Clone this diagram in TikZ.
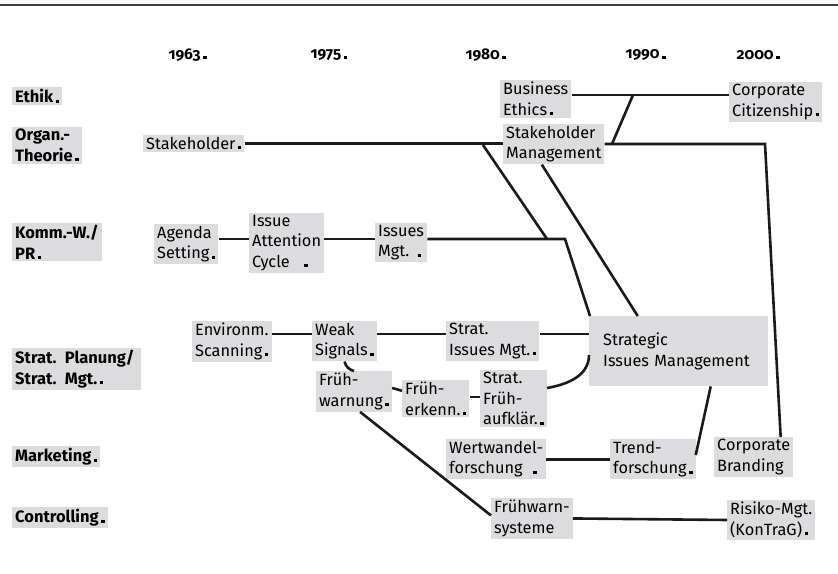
\documentclass[tikz,border=0pt]{standalone}
\usepackage{fontspec}
\setmainfont{Fira Sans}
\usepackage{tikz}
\usetikzlibrary{positioning}
\definecolor{boxgray}{RGB}{220,220,222}
\definecolor{ink}{RGB}{26,26,26}
\newcommand{\dt}{\kern2.5pt\rule{3.5pt}{3pt}}

\begin{document}
\begin{tikzpicture}[
    x=1pt, y=-1pt,
    box/.style={fill=boxgray, anchor=north west, align=left, inner xsep=3pt, inner ysep=2pt, font=\fontsize{16.3}{20.5}\selectfont},
    row/.style={box, font=\fontsize{16.5}{20.5}\selectfont\bfseries},
    year/.style={anchor=west, font=\fontsize{15.5}{20}\selectfont\bfseries\addfontfeatures{Numbers=OldStyle}},
    link/.style={draw=ink, line width=2.6pt}
  ]
  \useasboundingbox (0,0) rectangle (838,573);
  \draw[black!75, line width=2pt] (0,4.5) -- (838,4.5);

  % years
  \foreach \yr/\xp in {1963/165,1975/307,1980/462,1990/622,2000/733}
    \node[year] (y\yr) at (\xp,55) {\yr\dt};

  % disciplines
  \node[row] (ethik) at (12,87) {Ethik\dt};
  \node[row] (organ) at (12,127) {Organ.-\\Theorie\dt};
  \node[row] (komm) at (12,223) {Komm.-W./\\PR\dt};
  \node[row, text width=123pt] (plan) at (12,348) {Strat. Planung/\\Strat. Mgt.\dt};
  \node[row] (mark) at (12,446) {Marketing\dt};
  \node[row] (contr) at (12,507) {Controlling\dt};

  % concepts
  \node[box] (bizeth) at (500,80) {Business\\Ethics\dt};
  \node[box] (corpcit) at (729,82) {Corporate\\Citizenship\dt};
  \node[box] (stake) at (143,135) {Stakeholder\dt};
  \node[box] (stmgt) at (503,124) {Stakeholder\\Management};
  \node[box] (agenda) at (154,224) {Agenda\\Setting\dt};
  \node[box] (attn) at (249,213) {Issue\\Attention\\Cycle\hspace{12pt}\dt};
  \node[box] (issmgt) at (375,223) {Issues\\Mgt.\hspace{6pt}\dt};
  \node[box] (envscan) at (192,321) {Environm.\\Scanning\dt};
  \node[box] (weak) at (312,321) {Weak\\Signals\dt};
  \node[box] (simgt) at (446,321) {Strat.\\Issues Mgt.\dt};
  \node[box, inner xsep=14pt, text width=151pt, minimum height=70pt] (sim) at (589,316) {Strategic\\Issues Management};
  \node[box] (fwarn) at (316,371) {Früh-\\warnung\dt};
  \node[box] (ferk) at (402,380) {Früh-\\erkenn.\dt};
  \node[box] (sfa) at (480,370) {Strat.\\Früh-\\aufklär.\dt};
  \node[box] (wert) at (446,439) {Wertwandel-\\forschung\hspace{8pt}\dt};
  \node[box] (trend) at (610,439) {Trend-\\forschung\dt};
  \node[box] (cbrand) at (714,437) {Corporate\\Branding};
  \node[box] (fwsys) at (491,498) {Frühwarn-\\systeme};
  \node[box] (risiko) at (727,500) {Risiko-Mgt.\\(KonTraG)\dt};

  % junctions
  \coordinate (jEth) at (633,95);
  \coordinate (jSM) at (612,144);
  \coordinate (jSt) at (483,145);
  \coordinate (jPR) at (547,239);
  \coordinate (kPR) at (565,239);
  \coordinate (kCB) at (765,144);
  \coordinate (rS) at (0,334);
  \coordinate (rF) at (0,397);
  \coordinate (rA) at (0,388);
  \coordinate (rB) at (0,355);

  % links
  \draw[link] (bizeth.east |- jEth) -- (jEth) -- (corpcit.west |- jEth);
  \draw[link] (jEth) -- (jSM);
  \draw[link] (stake.east) -- (stake.east -| stmgt.west);
  \draw[link] (jSt) -- (jPR);
  \draw[link] (stmgt.east |- kCB) -- (kCB) -- ([xshift=27pt]cbrand.north);
  \draw[link] ([xshift=-12pt]stmgt.south) -- ([xshift=-41pt]sim.north);
  \draw[link] (agenda.east |- kPR) -- (attn.west |- kPR);
  \draw[link] (attn.east |- kPR) -- (issmgt.west |- kPR);
  \draw[link] (issmgt.east |- kPR) -- (kPR) -- ([xshift=1pt]sim.north west);
  \draw[link] (envscan.east |- rS) -- (weak.west |- rS);
  \draw[link] (weak.east |- rS) -- (simgt.west |- rS);
  \draw[link] (simgt.east |- rS) -- (sim.west |- rS);
  \draw[link] (weak.south) to[out=-75,in=165] (fwarn.north);
  \draw[link] ([yshift=3.5pt]fwarn.east) -- ([yshift=8pt]ferk.west);
  \draw[link] (ferk.east |- rF) -- (sfa.west |- rF);
  \draw[link] (sfa.east |- rA) to[out=10,in=-90] (sim.west |- rB);
  \draw[link] (wert.east) -- (trend.west);
  \draw[link] ([xshift=32pt]sim.south) -- ([yshift=-16pt]trend.north east);
  \draw[link] ([xshift=6pt]fwarn.south) -- ([yshift=3pt]fwsys.west);
  \draw[link] (fwsys.east) -- (risiko.west);
\end{tikzpicture}
\end{document}
